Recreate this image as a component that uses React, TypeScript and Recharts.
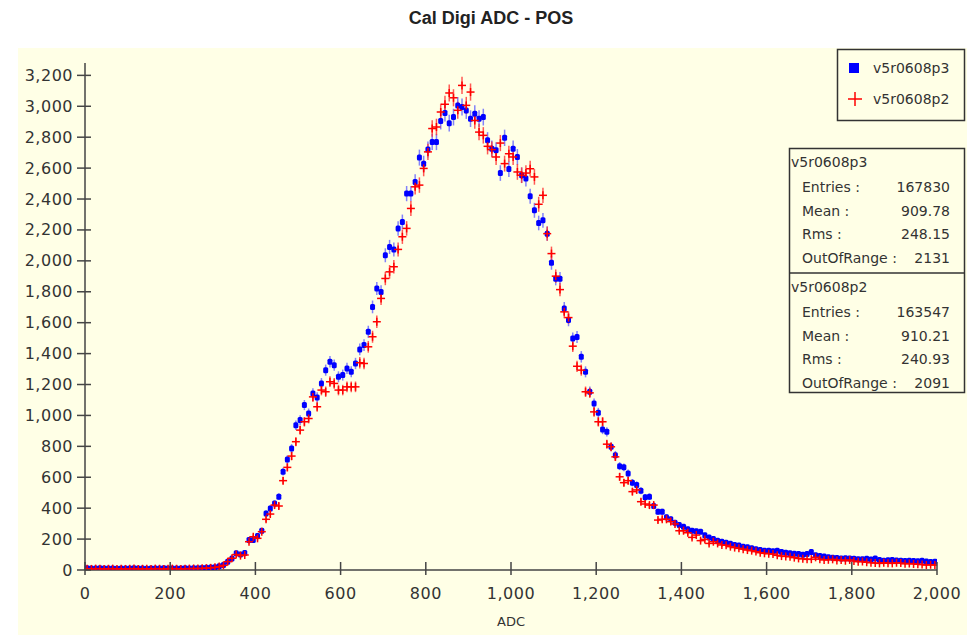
import React from 'react';
import { ScatterChart, Scatter, XAxis, YAxis, ErrorBar } from 'recharts';

// ADC histogram, 10-count bins from 0 to 2000
const BIN_WIDTH = 10;

const P3_COUNTS = [
  12, 10, 9, 11, 10, 9, 10, 8, 9, 10,
  9, 11, 10, 9, 8, 10, 9, 10, 11, 9,
  10, 9, 10, 11, 10, 12, 11, 13, 14, 16,
  18, 24, 32, 54, 75, 108, 100, 110, 194, 194,
  220, 254, 366, 398, 430, 474, 636, 715, 786, 937,
  970, 1067, 1013, 1142, 1116, 1207, 1293, 1347, 1325, 1250,
  1261, 1304, 1282, 1336, 1427, 1455, 1541, 1702, 1821, 1799,
  2036, 2090, 2073, 2209, 2252, 2435, 2435, 2510, 2668, 2629,
  2720, 2769, 2769, 2904, 2956, 2891, 2930, 3005, 2995, 2973,
  2920, 2952, 2920, 2930, 2780, 2726, 2715, 2568, 2796, 2594,
  2726, 2672, 2554, 2532, 2418, 2327, 2245, 2262, 2176, 1987,
  1885, 1885, 1692, 1617, 1498, 1508, 1379, 1282, 1153, 1077,
  1017, 909, 894, 797, 743, 672, 664, 625, 565, 550,
  513, 470, 474, 414, 377, 377, 341, 328, 306, 291,
  280, 263, 254, 250, 248, 225, 211, 200, 190, 183,
  177, 170, 162, 158, 150, 147, 140, 134, 130, 125,
  125, 122, 125, 116, 112, 108, 105, 103, 98, 104,
  116, 95, 90, 88, 82, 80, 78, 75, 76, 75,
  72, 69, 70, 72, 68, 75, 64, 60, 63, 65,
  62, 60, 58, 60, 58, 56, 60, 55, 52, 54,
];

const P2_COUNTS = [
  8, 7, 9, 8, 7, 8, 9, 7, 8, 7,
  8, 9, 7, 8, 8, 7, 9, 8, 7, 8,
  9, 8, 7, 8, 9, 10, 9, 11, 12, 14,
  17, 22, 30, 54, 76, 100, 93, 97, 183, 215,
  205, 248, 328, 362, 420, 414, 578, 664, 737, 830,
  905, 959, 980, 1120, 1056, 1164, 1153, 1218, 1207, 1164,
  1164, 1185, 1185, 1185, 1341, 1336, 1444, 1509, 1606, 1757,
  1886, 1929, 1962, 2074, 2156, 2210, 2339, 2479, 2490, 2598,
  2705, 2856, 2866, 2963, 3013, 3086, 3055, 2974, 3135, 3006,
  3092, 2908, 2833, 2812, 2741, 2720, 2672, 2762, 2629, 2693,
  2672, 2575, 2554, 2568, 2596, 2543, 2366, 2424, 2176, 2047,
  1901, 1814, 1670, 1633, 1448, 1318, 1293, 1153, 1146, 1023,
  959, 959, 814, 797, 732, 603, 565, 578, 507, 518,
  442, 427, 420, 420, 323, 328, 328, 313, 298, 254,
  254, 241, 211, 226, 190, 198, 172, 183, 172, 162,
  160, 151, 145, 140, 135, 129, 125, 119, 112, 108,
  105, 103, 95, 90, 88, 86, 80, 75, 72, 69,
  70, 82, 70, 65, 66, 69, 62, 65, 60, 65,
  58, 54, 55, 50, 47, 45, 43, 47, 44, 43,
  47, 45, 40, 42, 39, 37, 35, 32, 34, 32,
];

const X_TICKS = [0, 200, 400, 600, 800, 1000, 1200, 1400, 1600, 1800, 2000];
const Y_TICKS = [0, 200, 400, 600, 800, 1000, 1200, 1400, 1600, 1800, 2000, 2200, 2400, 2600, 2800, 3000, 3200];
const Y_MAX = 3280;

const STATS = [
  { name: 'v5r0608p3', entries: '167830', mean: '909.78', rms: '248.15', outOfRange: '2131' },
  { name: 'v5r0608p2', entries: '163547', mean: '910.21', rms: '240.93', outOfRange: '2091' },
];

const BG = '#FFFFE6';
const AXIS = '#454545';
const TEXT = '#333333';
const FONT = '"DejaVu Sans", Verdana, sans-serif';

const toPoints = (counts: number[]) =>
  counts.map((c, i) => ({ x: i * BIN_WIDTH + BIN_WIDTH / 2, y: c, err: Math.sqrt(c) }));

const p3Data = toPoints(P3_COUNTS);
const p2Data = toPoints(P2_COUNTS);

const fmt = (v: number) => v.toLocaleString('en-US');

const BlueDot = (props: any) => {
  const { cx, cy } = props;
  if (cx == null || cy == null) return null;
  return <rect x={cx - 2.5} y={cy - 3} width={5} height={6} rx={1.5} fill="#0000FF" />;
};

const RedCross = (props: any) => {
  const { cx, cy } = props;
  if (cx == null || cy == null) return null;
  return (
    <g stroke="#FF0000" strokeWidth={1.5}>
      <line x1={cx - 4} x2={cx + 4} y1={cy} y2={cy} />
      <line x1={cx} x2={cx} y1={cy - 4} y2={cy + 4} />
    </g>
  );
};

const XTick = (props: any) => {
  const { x, y, payload } = props;
  return (
    <g>
      <line x1={x} x2={x} y1={y - 8} y2={y + 5} stroke={AXIS} strokeWidth={1.5} />
      <text x={x} y={y + 23} textAnchor="middle" dominantBaseline="central" fontSize={16} fill={TEXT} fontFamily={FONT} letterSpacing={0.5}>
        {fmt(payload.value)}
      </text>
    </g>
  );
};

const YTick = (props: any) => {
  const { x, y, payload } = props;
  return (
    <g>
      <line x1={x - 8} x2={x + 6} y1={y} y2={y} stroke={AXIS} strokeWidth={1.5} />
      <text x={x - 12} y={y} textAnchor="end" dominantBaseline="central" fontSize={16} fill={TEXT} fontFamily={FONT} letterSpacing={0.5}>
        {fmt(payload.value)}
      </text>
    </g>
  );
};

function StatsBox({ s, top }: { s: (typeof STATS)[number]; top: number }) {
  const rows = [
    ['Entries :', s.entries],
    ['Mean :', s.mean],
    ['Rms :', s.rms],
    ['OutOfRange :', s.outOfRange],
  ];
  return (
    <g fontFamily={FONT} fontSize={14} fill={TEXT}>
      <text x={791} y={top + 14} dominantBaseline="central">{s.name}</text>
      {rows.map((r, i) => (
        <g key={r[0]}>
          <text x={802} y={top + 39 + i * 23.5} dominantBaseline="central">{r[0]}</text>
          <text x={950} y={top + 39 + i * 23.5} textAnchor="end" dominantBaseline="central">{r[1]}</text>
        </g>
      ))}
    </g>
  );
}

export default function App() {
  return (
    <div style={{ position: 'relative', width: 972, height: 635, background: '#fff', overflow: 'hidden' }}>
      <style>{'body{margin:0}'}</style>
      <div style={{ position: 'absolute', left: 18, top: 48, width: 949, height: 587, background: BG }} />
      <div style={{ position: 'absolute', left: 0, top: 0 }}>
        <ScatterChart width={972} height={635} margin={{ top: 63, right: 35, bottom: 35, left: 10 }}>
          <XAxis
            type="number"
            dataKey="x"
            domain={[0, 2000]}
            ticks={X_TICKS}
            height={30}
            tickLine={false}
            tickSize={0}
            tickMargin={0}
            axisLine={{ stroke: AXIS, strokeWidth: 1.5 }}
            tick={<XTick />}
            allowDataOverflow
          />
          <YAxis
            type="number"
            dataKey="y"
            domain={[0, Y_MAX]}
            ticks={Y_TICKS}
            width={75}
            tickLine={false}
            tickSize={0}
            tickMargin={0}
            axisLine={{ stroke: AXIS, strokeWidth: 1.5 }}
            tick={<YTick />}
            allowDataOverflow
          />
          <Scatter data={p3Data} shape={BlueDot} isAnimationActive={false}>
            <ErrorBar dataKey="err" direction="y" width={0} stroke="#5a5aff" strokeWidth={1.5} strokeOpacity={0.75} />
          </Scatter>
          <Scatter data={p2Data} shape={RedCross} isAnimationActive={false}>
            <ErrorBar dataKey="err" direction="y" width={0} stroke="#ff3030" strokeWidth={1.5} strokeOpacity={0.8} />
          </Scatter>
        </ScatterChart>
      </div>
      <svg width={972} height={635} style={{ position: 'absolute', left: 0, top: 0, pointerEvents: 'none' }}>
        <text x={491} y={18} textAnchor="middle" dominantBaseline="central" fontFamily='"Liberation Sans", Arial, sans-serif' fontWeight="bold" fontSize={18} fill="#222">
          Cal Digi ADC - POS
        </text>
        <text x={511} y={621} textAnchor="middle" dominantBaseline="central" fontFamily={FONT} fontSize={13} fill={TEXT}>
          ADC
        </text>

        {/* legend */}
        <rect x={837.5} y={49.5} width={127} height={71} fill={BG} stroke="#333" strokeWidth={1.5} />
        <rect x={849} y={63} width={10} height={10} fill="#0000FF" />
        <g stroke="#FF0000" strokeWidth={1.5}>
          <line x1={848} x2={862} y1={99} y2={99} />
          <line x1={855} x2={855} y1={92} y2={106} />
        </g>
        <text x={873} y={68} dominantBaseline="central" fontFamily={FONT} fontSize={14} fill={TEXT}>{STATS[0].name}</text>
        <text x={873} y={99} dominantBaseline="central" fontFamily={FONT} fontSize={14} fill={TEXT}>{STATS[1].name}</text>

        {/* statistics */}
        <rect x={789.5} y={148.5} width={175} height={244} fill={BG} stroke="#333" strokeWidth={1.5} />
        <line x1={789.5} x2={964.5} y1={273} y2={273} stroke="#333" strokeWidth={1.5} />
        <StatsBox s={STATS[0]} top={148} />
        <StatsBox s={STATS[1]} top={273} />
      </svg>
    </div>
  );
}
